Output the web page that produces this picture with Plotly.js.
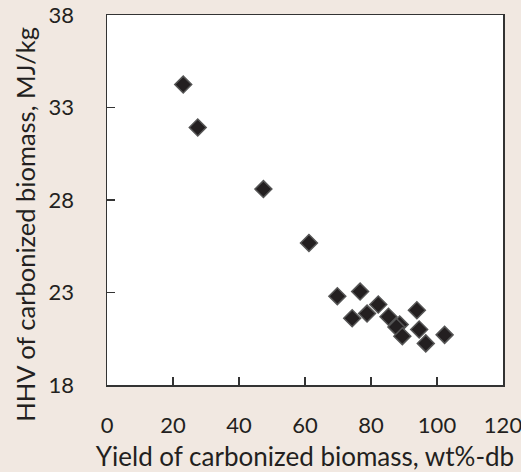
<!DOCTYPE html>
<html>
<head>
<meta charset="utf-8">
<script src="https://cdn.plot.ly/plotly-3.0.1.min.js"></script>
<style>html,body{margin:0;padding:0;background:#f1e8e1;}</style>
</head>
<body>
<div id="chart" style="width:521px;height:472px;"></div>
<script>
const yieldPct = [23.1, 27.5, 47.4, 61.2, 69.8, 76.7, 74.3, 78.8, 82.2, 85.3, 88.7, 87.7, 89.5, 93.9, 94.6, 96.6, 102.3];
const hhv      = [34.24, 31.92, 28.59, 25.68, 22.8, 23.05, 21.61, 21.86, 22.35, 21.69, 21.27, 21.14, 20.64, 22.04, 21.0, 20.25, 20.71];
const xTicks = [0, 20, 40, 60, 80, 100, 120];
const yTicks = [18, 23, 28, 33, 38];
const xTitle = 'Yield of carbonized biomass, wt%-db';
const yTitle = 'HHV of carbonized biomass, MJ/kg';

const fontFam = 'Lato, "Open Sans", sans-serif';
const trace = {
  x: yieldPct, y: hhv, type: 'scatter', mode: 'markers',
  marker: {symbol: 'diamond', size: 13, color: '#231f20', line: {color: '#555555', width: 1.5}},
  hoverinfo: 'skip'
};
const layout = {
  width: 521, height: 472,
  paper_bgcolor: '#f1e8e1', plot_bgcolor: '#ffffff',
  margin: {l: 106.5, r: 17.5, t: 15, b: 86.5},
  showlegend: false,
  font: {family: fontFam, color: '#231f20', size: 22},
  xaxis: {
    range: [0, 120], tickvals: xTicks, ticktext: xTicks.map(String),
    ticks: 'inside', ticklen: 8, tickcolor: '#333', tickwidth: 1.5,
    showline: true, linecolor: '#333', linewidth: 1.5, mirror: true,
    showgrid: false, zeroline: false,
    tickfont: {size: 22},
    ticklabelstandoff: 20, ticklabeloverflow: 'allow',
    title: {text: xTitle, font: {size: 26}, standoff: 13}
  },
  yaxis: {
    range: [18, 38], tickvals: yTicks, ticktext: yTicks.map(String),
    ticks: 'inside', ticklen: 8, tickcolor: '#333', tickwidth: 1.5,
    showline: true, linecolor: '#333', linewidth: 1.5, mirror: true,
    showgrid: false, zeroline: false,
    tickfont: {size: 22},
    ticklabelstandoff: 27, ticklabeloverflow: 'allow'
  },
  annotations: [{
    text: yTitle, textangle: -90, showarrow: false,
    xref: 'paper', yref: 'paper', x: -0.208, y: 0.435,
    xanchor: 'center', yanchor: 'middle',
    font: {size: 25.5, family: fontFam, color: '#231f20'}
  }]
};
Plotly.newPlot('chart', [trace], layout, {displayModeBar: false, staticPlot: true});
</script>
</body>
</html>
